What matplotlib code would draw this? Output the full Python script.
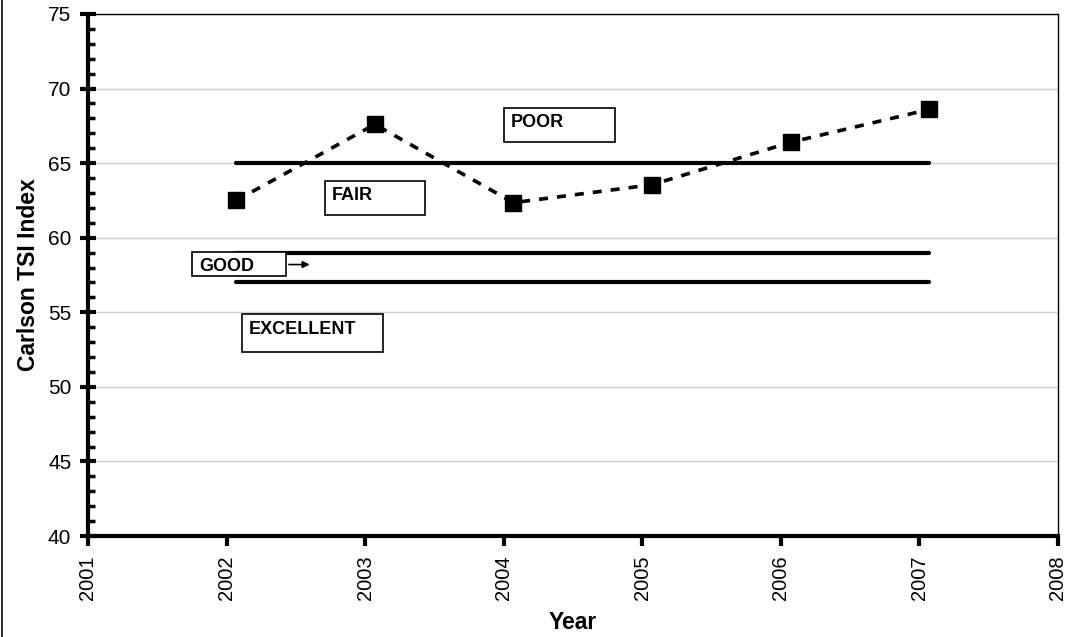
import matplotlib.pyplot as plt
from matplotlib.patches import Rectangle
from matplotlib.ticker import MultipleLocator
from matplotlib.lines import Line2D

plt.rcParams["font.family"] = ["Liberation Sans", "DejaVu Sans"]

# datos
anios = [2002.07, 2003.07, 2004.07, 2005.07, 2006.07, 2007.07]
tsi = [62.5, 67.6, 62.35, 63.55, 66.4, 68.6]

# limites de clase (lineas horizontales)
limites = [65, 59, 57]

clases = ["POOR", "FAIR", "GOOD", "EXCELLENT"]
# cajas de texto: (x0, x1, y_abajo, y_arriba) en unidades de datos
cajas = [
    (2004.00, 2004.80, 66.42, 68.70),
    (2002.71, 2003.43, 61.50, 63.82),
    (2001.75, 2002.43, 57.45, 59.04),
    (2002.11, 2003.13, 52.36, 54.87),
]

fig = plt.figure(figsize=(10.7, 6.37), dpi=100)
ax = fig.add_axes([88 / 1070, 1 - 536 / 637, (1058 - 88) / 1070, (536 - 14) / 637])

ax.set_xlim(2001, 2008)
ax.set_ylim(40, 75)
ax.yaxis.set_major_locator(MultipleLocator(5))
ax.yaxis.set_minor_locator(MultipleLocator(1))
ax.xaxis.set_major_locator(MultipleLocator(1))

ax.grid(axis="y", which="major", color="#d0d0d0", linewidth=1, zorder=0)

for lim in limites:
    ax.plot([anios[0], anios[-1]], [lim, lim], color="black", linewidth=3,
            solid_capstyle="round", zorder=3)

ax.plot(anios, tsi, color="black", linestyle=(0, (2.5, 2.5)), linewidth=2.6,
        marker="s", markersize=11.5, zorder=4)

for nombre, (x0, x1, y0, y1) in zip(clases, cajas):
    ax.add_patch(Rectangle((x0, y0), x1 - x0, y1 - y0, facecolor="white",
                           edgecolor="black", linewidth=1.2, zorder=5))
    ax.text(x0 + 0.05, y1 - 1.0, nombre, fontsize=13, fontweight="bold",
            ha="left", va="center", zorder=6)

# flecha de GOOD
ax.annotate("", xy=(2002.62, 58.2), xytext=(2002.43, 58.2),
            arrowprops=dict(arrowstyle="-|>", color="black", lw=1.2,
                            mutation_scale=10), zorder=6)

for lado in ["left", "bottom"]:
    ax.spines[lado].set_linewidth(3)
for lado in ["top", "right"]:
    ax.spines[lado].set_linewidth(1)

ax.tick_params(axis="y", which="major", direction="inout", length=12, width=3,
               labelsize=15, pad=6)
ax.tick_params(axis="y", which="minor", direction="in", length=5, width=2.5)
ax.tick_params(axis="x", which="major", direction="out", length=7, width=3,
               labelsize=14.5, pad=7, labelrotation=90)

ax.set_ylabel("Carlson TSI Index", fontsize=16.5, fontweight="bold", labelpad=6)
ax.set_xlabel("Year", fontsize=16.5, fontweight="bold", labelpad=8)

fig.add_artist(Line2D([2 / 1070, 2 / 1070], [0, 1], color="black", linewidth=1.2))

fig.savefig("out.png", dpi=100)
